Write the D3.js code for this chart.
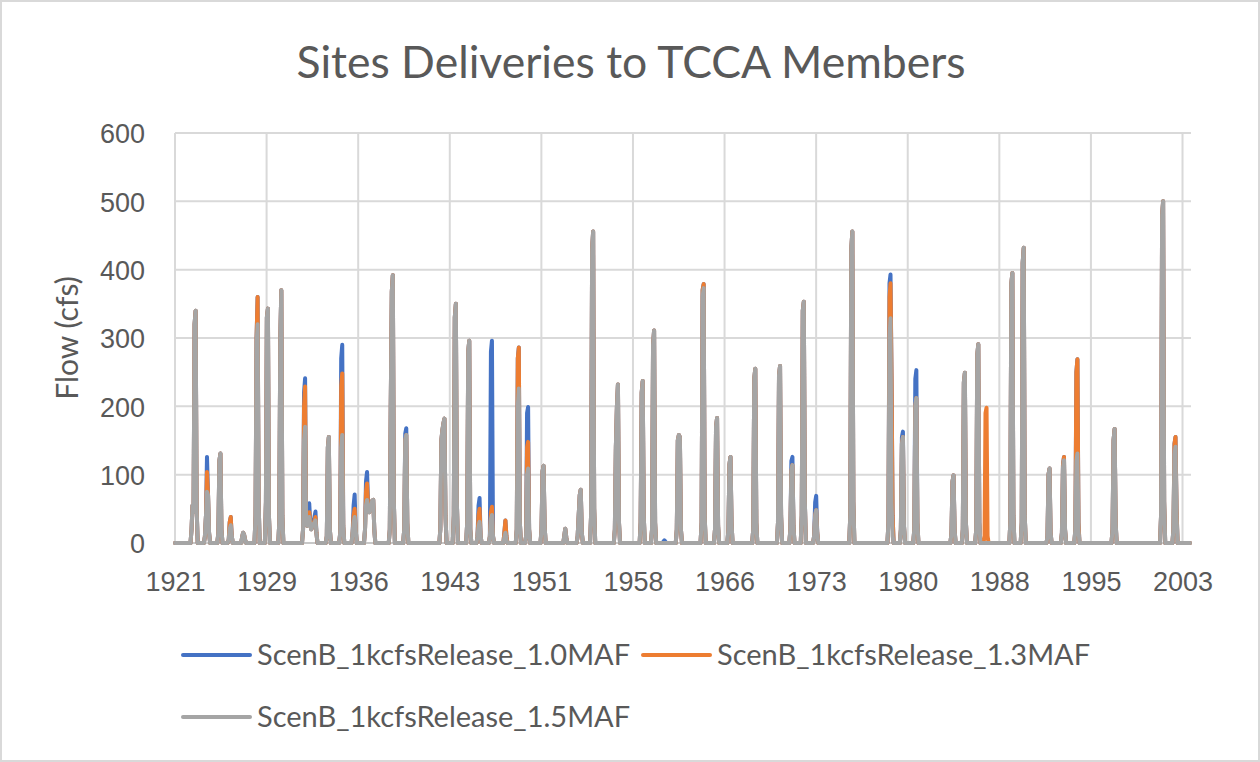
<!DOCTYPE html>
<html>
<head>
<meta charset="utf-8">
<script src="https://cdn.jsdelivr.net/npm/d3@7"></script>
<style>
  html, body { margin: 0; padding: 0; background: #ffffff; }
  svg { display: block; font-family: Lato, "Open Sans", "DejaVu Sans", sans-serif; }
</style>
</head>
<body>
<svg id="chart" width="1260" height="762"></svg>
<script>
// ---- chart text ----
const chartTitle = "Sites Deliveries to TCCA Members";
const yAxisTitle = "Flow (cfs)";
const seriesNames = [
  "ScenB_1kcfsRelease_1.0MAF",
  "ScenB_1kcfsRelease_1.3MAF",
  "ScenB_1kcfsRelease_1.5MAF"
];
const xTickLabels = ["1921", "1929", "1936", "1943", "1951", "1958", "1966", "1973", "1980", "1988", "1995", "2003"];
const yTickValues = [0, 100, 200, 300, 400, 500, 600];

// Simulation period (monthly time step)
const firstMonth = "1921-10";
const lastMonth = "2003-09";

// ScenB 1.5 MAF monthly deliveries (cfs).
// Each entry: first month of a delivery run, then the consecutive monthly values.
// Months not listed deliver 0 cfs.
const flow15MAF = [
  ["1923-02", [20, 55, 45, 320, 340, 50]],
  ["1924-03", [10, 40, 75, 70, 15]],
  ["1925-04", [15, 120, 131, 20]],
  ["1926-02", [5, 20, 26, 10]],
  ["1927-03", [8, 15, 12, 4]],
  ["1928-04", [40, 290, 320, 60]],
  ["1929-02", [60, 330, 343, 40]],
  ["1930-03", [30, 300, 370, 40]],
  ["1932-02", [20, 150, 170, 30, 25, 30, 38, 25, 20, 25, 28, 30, 33, 15]],
  ["1934-01", [10, 140, 155, 20]],
  ["1935-02", [15, 140, 158, 25]],
  ["1936-02", [15, 30, 38, 20]],
  ["1937-02", [20, 55, 63, 50, 45, 48, 55, 62, 63, 20]],
  ["1939-02", [20, 200, 368, 392, 60]],
  ["1940-04", [20, 150, 158, 30]],
  ["1943-03", [20, 150, 165, 175, 182, 40]],
  ["1944-04", [40, 330, 350, 60]],
  ["1945-05", [30, 280, 296, 20]],
  ["1946-03", [10, 25, 31, 10]],
  ["1947-03", [10, 35, 41, 10]],
  ["1948-05", [8, 15, 5]],
  ["1949-05", [20, 200, 226, 30]],
  ["1950-02", [10, 100, 109, 20]],
  ["1951-05", [20, 105, 113, 25]],
  ["1953-03", [10, 21, 8]],
  ["1954-04", [10, 40, 70, 78, 15]],
  ["1955-05", [40, 430, 456, 50]],
  ["1957-04", [20, 140, 200, 232, 30]],
  ["1959-05", [30, 220, 237, 40]],
  ["1960-04", [20, 290, 311, 30]],
  ["1962-04", [20, 150, 158, 155, 20]],
  ["1964-04", [30, 360, 373, 40]],
  ["1965-05", [20, 170, 183, 25]],
  ["1966-06", [20, 115, 126, 30]],
  ["1968-06", [20, 240, 255, 30]],
  ["1970-06", [30, 245, 259, 40]],
  ["1971-06", [20, 105, 114, 25]],
  ["1972-05", [40, 340, 353, 60]],
  ["1973-05", [10, 40, 48, 15]],
  ["1976-04", [40, 430, 456, 60]],
  ["1979-05", [30, 300, 329, 60, 10]],
  ["1980-05", [20, 145, 155, 25]],
  ["1981-06", [20, 200, 212, 30]],
  ["1984-06", [15, 90, 99, 20]],
  ["1985-05", [20, 235, 249, 30]],
  ["1986-06", [20, 275, 291, 30]],
  ["1989-03", [30, 380, 395, 40]],
  ["1990-02", [30, 410, 432, 40]],
  ["1992-03", [10, 100, 109, 15]],
  ["1993-05", [15, 110, 121, 20]],
  ["1994-06", [20, 120, 131, 20]],
  ["1997-06", [20, 150, 167, 30]],
  ["2001-05", [40, 480, 500, 60]],
  ["2002-05", [20, 130, 141, 40]]
];

// ScenB 1.3 MAF: runs where deliveries differ from the 1.5 MAF run (same format).
const flow13MAF = [
  ["1924-03", [10, 40, 104, 70, 15]],
  ["1926-02", [5, 30, 38, 10]],
  ["1928-04", [40, 300, 360, 60]],
  ["1932-02", [20, 200, 229, 30, 25, 35, 45, 30, 20, 25, 28, 32, 38, 15]],
  ["1935-02", [15, 230, 248, 25]],
  ["1936-02", [15, 40, 50, 20]],
  ["1937-02", [20, 75, 87, 55, 45, 48, 55, 62, 63, 20]],
  ["1946-03", [10, 40, 50, 10]],
  ["1947-03", [10, 45, 53, 10]],
  ["1948-05", [15, 33, 10]],
  ["1949-05", [20, 270, 286, 30]],
  ["1950-02", [10, 140, 148, 20]],
  ["1964-04", [30, 370, 379, 40]],
  ["1979-05", [30, 360, 380, 240, 40]],
  ["1987-02", [10, 190, 198, 10]],
  ["1993-05", [15, 115, 126, 20]],
  ["1994-06", [20, 250, 269, 30]],
  ["2002-05", [20, 145, 155, 50]]
];

// ScenB 1.0 MAF: runs where deliveries differ from the 1.5 MAF run (same format).
const flow10MAF = [
  ["1924-03", [10, 40, 126, 70, 15]],
  ["1926-02", [5, 30, 38, 10]],
  ["1928-04", [40, 300, 360, 60]],
  ["1932-02", [20, 220, 241, 30, 25, 40, 58, 30, 20, 25, 30, 38, 46, 15]],
  ["1935-02", [15, 270, 290, 25]],
  ["1936-02", [15, 55, 71, 20]],
  ["1937-02", [20, 90, 104, 60, 45, 48, 55, 62, 63, 20]],
  ["1940-04", [20, 160, 168, 30]],
  ["1946-03", [10, 55, 66, 10]],
  ["1947-03", [10, 280, 296, 10]],
  ["1948-05", [15, 33, 10]],
  ["1949-05", [20, 270, 286, 30]],
  ["1950-02", [10, 190, 199, 20]],
  ["1961-03", [2, 4, 2]],
  ["1964-04", [30, 370, 379, 40]],
  ["1971-06", [20, 120, 126, 25]],
  ["1973-05", [10, 60, 69, 15]],
  ["1979-05", [30, 380, 393, 240, 40]],
  ["1980-05", [20, 155, 163, 25]],
  ["1981-06", [20, 240, 253, 30]],
  ["1993-05", [15, 115, 126, 20]],
  ["1994-06", [20, 250, 269, 30]],
  ["2002-05", [20, 145, 155, 50]]
];

const seriesColors = ["#4472c4", "#ed7d31", "#a5a5a5"];

// ---- build the monthly table ----
const parseMonth = d3.utcParse("%Y-%m");
const monthKey = d3.utcFormat("%Y-%m");
const months = d3.utcMonth.range(parseMonth(firstMonth), d3.utcMonth.offset(parseMonth(lastMonth), 1));

function runsToMap(runs) {
  const m = new Map();
  runs.forEach(([start, vals]) => {
    const s = parseMonth(start);
    vals.forEach((v, i) => m.set(monthKey(d3.utcMonth.offset(s, i)), v));
  });
  return m;
}
const base15 = runsToMap(flow15MAF);
const diff13 = runsToMap(flow13MAF);
const diff10 = runsToMap(flow10MAF);

const table = months.map(date => {
  const k = monthKey(date);
  const v15 = base15.has(k) ? base15.get(k) : 0;
  return {
    date,
    v10: diff10.has(k) ? diff10.get(k) : v15,
    v13: diff13.has(k) ? diff13.get(k) : v15,
    v15
  };
});
const seriesKeys = ["v10", "v13", "v15"];

// ---- layout ----
const svg = d3.select("#chart");
const W = 1260, H = 762;
const plot = { left: 175, right: 1191, top: 133, bottom: 543 };
const textColor = "#595959";
const gridColor = "#d9d9d9";

svg.append("rect")
  .attr("x", 1).attr("y", 1).attr("width", W - 2).attr("height", H - 2)
  .attr("fill", "#ffffff").attr("stroke", "#d9d9d9").attr("stroke-width", 2);

// axis spans the full simulation period; gridlines every 2700 days from the start
const tStart = parseMonth(firstMonth);
const tEnd = d3.utcMonth.offset(parseMonth(lastMonth), 1);
const x = d3.scaleUtc().domain([tStart, tEnd]).range([plot.left, plot.right]);
const y = d3.scaleLinear().domain([0, 600]).range([plot.bottom, plot.top]);
const xTickDates = xTickLabels.map((_, i) => d3.utcDay.offset(tStart, i * 2700));

// gridlines
const grid = svg.append("g");
grid.selectAll("line.h").data(yTickValues).join("line")
  .attr("x1", plot.left).attr("x2", plot.right)
  .attr("y1", d => y(d)).attr("y2", d => y(d))
  .attr("stroke", d => d === 0 ? "#c8c8c8" : gridColor)
  .attr("stroke-width", 2);
grid.selectAll("line.v").data(xTickDates).join("line")
  .attr("x1", d => x(d)).attr("x2", d => x(d))
  .attr("y1", plot.top).attr("y2", plot.bottom)
  .attr("stroke", gridColor).attr("stroke-width", 2);

// axes (labels only)
const yAxis = svg.append("g")
  .attr("transform", `translate(${plot.left - 30},0)`)
  .call(d3.axisLeft(y).tickValues(yTickValues).tickSize(0).tickPadding(0));
yAxis.select(".domain").remove();
yAxis.selectAll("text")
  .attr("fill", textColor).style("font-size", "27px").attr("dy", "0.36em");

const xAxis = svg.append("g")
  .attr("transform", `translate(0,${plot.bottom})`)
  .call(d3.axisBottom(x).tickValues(xTickDates).tickFormat((d, i) => xTickLabels[i]).tickSize(0).tickPadding(38));
xAxis.select(".domain").remove();
xAxis.selectAll("text")
  .attr("fill", textColor).style("font-size", "27px").attr("dy", "0.36em");

// series lines (1.5 MAF drawn last, on top)
const lineGen = key => d3.line().x(d => x(d.date)).y(d => y(d[key]));
const lines = svg.append("g");
seriesKeys.forEach((key, i) => {
  lines.append("path")
    .datum(table)
    .attr("d", lineGen(key))
    .attr("fill", "none")
    .attr("stroke", seriesColors[i])
    .attr("stroke-width", 4)
    .attr("stroke-linejoin", "round")
    .attr("stroke-linecap", "round");
});

// title
svg.append("text")
  .attr("x", 631).attr("y", 78)
  .attr("text-anchor", "middle")
  .attr("fill", textColor)
  .style("font-size", "44.5px")
  .text(chartTitle);

// y axis title
svg.append("text")
  .attr("transform", `translate(78,${(plot.top + plot.bottom) / 2}) rotate(-90)`)
  .attr("text-anchor", "middle")
  .attr("fill", textColor)
  .style("font-size", "30px")
  .text(yAxisTitle);

// legend
const legendItems = [
  { name: seriesNames[0], color: seriesColors[0], x: 183, y: 655 },
  { name: seriesNames[1], color: seriesColors[1], x: 643, y: 655 },
  { name: seriesNames[2], color: seriesColors[2], x: 183, y: 717 }
];
const legend = svg.append("g");
legendItems.forEach(it => {
  legend.append("line")
    .attr("x1", it.x).attr("x2", it.x + 67)
    .attr("y1", it.y).attr("y2", it.y)
    .attr("stroke", it.color).attr("stroke-width", 4)
    .attr("stroke-linecap", "round");
  legend.append("text")
    .attr("x", it.x + 74).attr("y", it.y)
    .attr("dy", "0.36em")
    .attr("fill", textColor)
    .style("font-size", "29px")
    .text(it.name);
});
</script>
</body>
</html>
